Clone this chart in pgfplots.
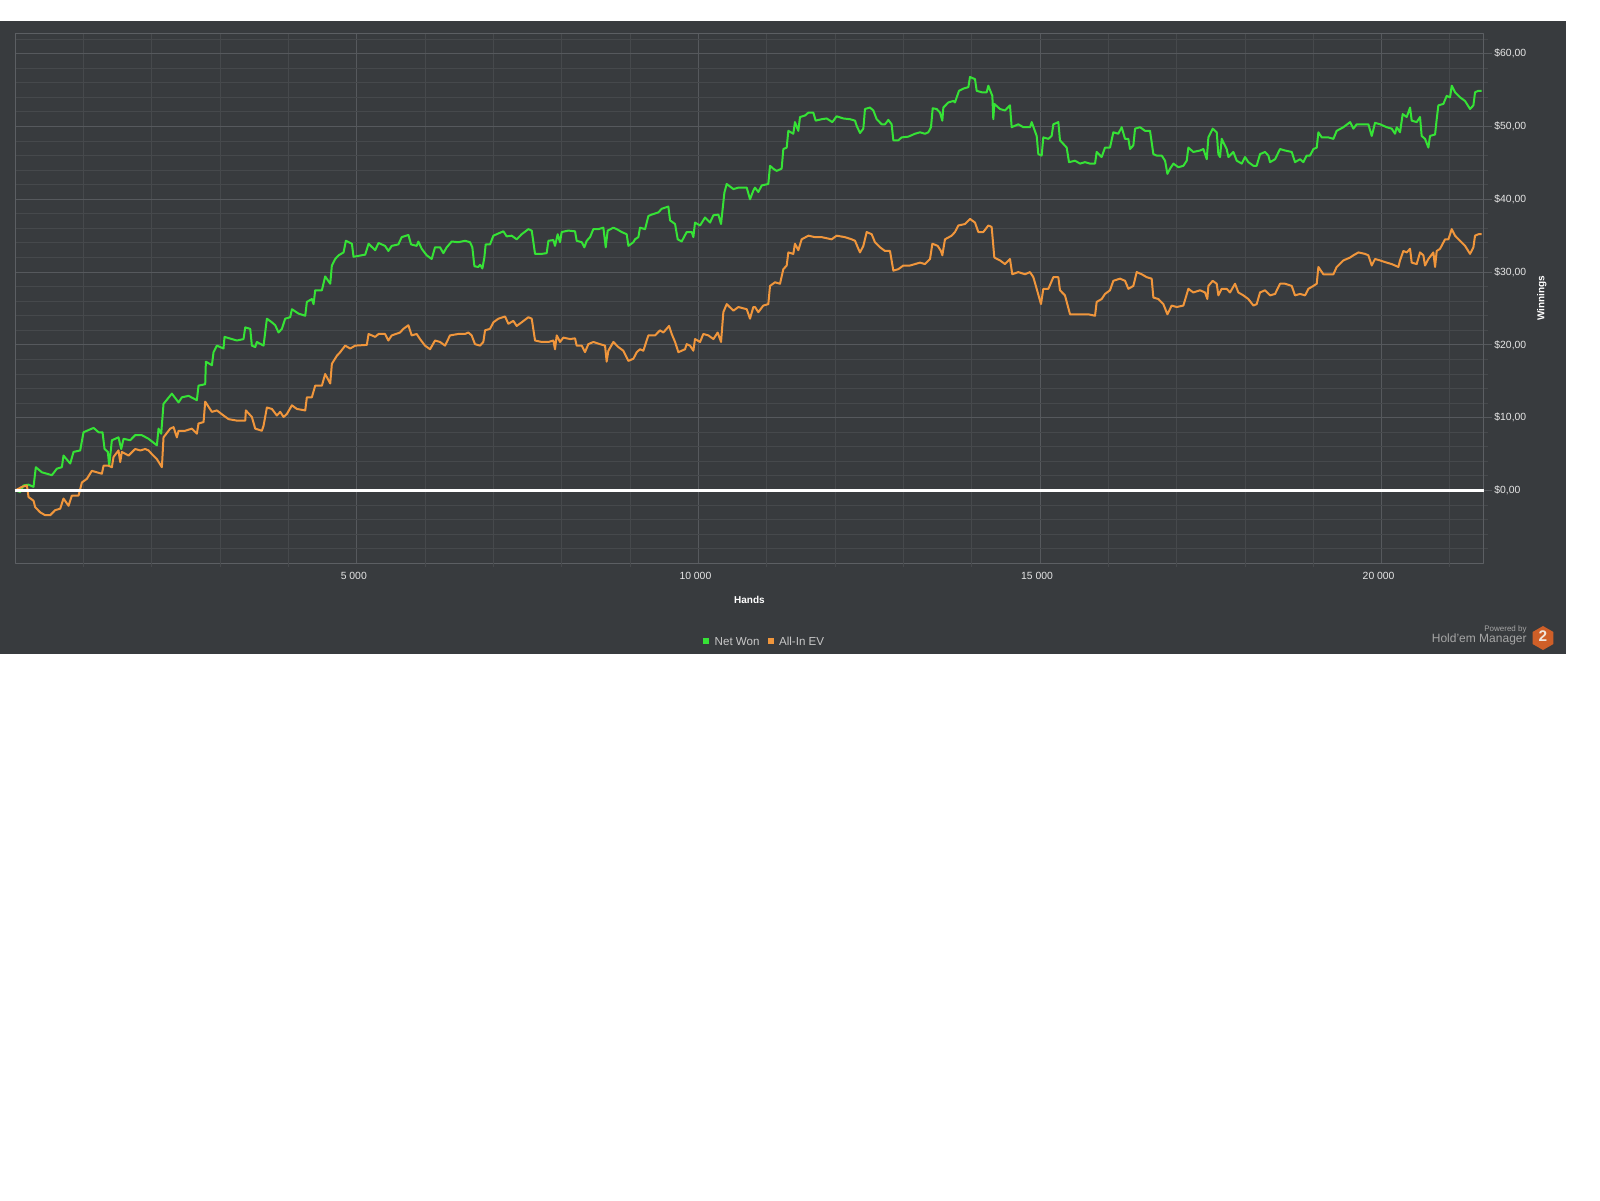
\documentclass[border=0pt]{standalone}
\usepackage{fontspec}
\setmainfont{Liberation Sans}
\usepackage{pgfplots}
\pgfplotsset{compat=1.18}
\definecolor{bg}{HTML}{383B3E}
\definecolor{gridmin}{HTML}{46494C}
\definecolor{gridmaj}{HTML}{56595D}
\definecolor{framec}{HTML}{5C5F63}
\definecolor{ticktext}{HTML}{E6E6E6}
\definecolor{legtext}{HTML}{C8C8C8}
\definecolor{netgreen}{HTML}{36E236}
\definecolor{evorange}{HTML}{F0963C}
\definecolor{hmorange}{HTML}{CF5F28}
\definecolor{hmgray}{HTML}{A6A6A6}
\begin{document}
\begin{tikzpicture}[x=0.5pt,y=0.5pt]
\useasboundingbox (0,0) rectangle (1600,1200);
\fill[white] (0,0) rectangle (1600,1200);
\fill[bg] (0,545.7) rectangle (1566,1179.3);
\begin{axis}[
  at={(7.6pt,318.35pt)}, anchor=south west, scale only axis,
  width=734.25pt, height=265pt,
  xmin=0, xmax=21494, ymin=-10, ymax=62.8,
  scaled x ticks=false, scaled y ticks=false,
  axis line style={color=framec, line width=0.5pt},
  xtick={5000,10000,15000,20000},
  xticklabels={5 000,10 000,15 000,20 000},
  minor xtick={1000,2000,3000,4000,6000,7000,8000,9000,11000,12000,13000,14000,16000,17000,18000,19000,21000},
  ytick={0,10,20,30,40,50,60},
  yticklabels={{\$0,00},{\$10,00},{\$20,00},{\$30,00},{\$40,00},{\$50,00},{\$60,00}},
  minor ytick={-8,-6,-4,-2,2,4,6,8,12,14,16,18,22,24,26,28,32,34,36,38,42,44,46,48,52,54,56,58,62},
  grid=both,
  major grid style={color=gridmaj, line width=0.5pt},
  minor grid style={color=gridmin, line width=0.5pt},
  major tick length=0pt, minor tick length=0pt,
  yticklabel pos=right,
  ticklabel style={font=\fontsize{5.2}{6}\selectfont, text=ticktext, inner sep=0pt},
  xticklabel style={anchor=center, yshift=-6.35pt, xshift=-1.5pt},
  yticklabel style={anchor=west, xshift=5.15pt},
  xlabel={Hands}, ylabel={Winnings},
  every axis x label/.style={at={(axis description cs:0.5,-0.0692)}, anchor=center, font=\bfseries\fontsize{5}{6}\selectfont, text=white},
  every axis y label/.style={at={(axis description cs:1.0395,0.5)}, rotate=90, anchor=center, font=\bfseries\fontsize{5}{6}\selectfont, text=white},
  clip=false,
  line join=round,
]
\addplot[netgreen, line width=1pt, mark=none] coordinates {
(0,0) (73,-0.2) (122,0.7) (195,0.8) (268,0.5) (302,3.2) (390,2.5) (464,2.3) (537,2.1) (610,3.0) (683,3.2) (707,4.8) (805,3.7) (854,5.3) (951,5.5) (1000,8.0) (1049,8.2) (1147,8.6) (1220,8.0) (1278,8.0) (1308,5.7) (1356,5.3) (1376,3.4) (1415,6.9) (1512,7.3) (1552,5.7) (1586,7.1) (1683,6.9) (1756,7.6) (1854,7.6) (1952,7.1) (2074,6.2) (2098,8.5) (2137,7.8) (2171,11.9) (2293,13.3) (2391,12.1) (2440,12.8) (2537,13.0) (2659,12.4) (2683,14.4) (2781,14.6) (2791,17.7) (2879,17.2) (2903,19.0) (2952,19.9) (3049,19.5) (3064,21.1) (3171,20.8) (3245,20.6) (3342,20.8) (3367,22.4) (3440,22.2) (3464,19.9) (3513,19.7) (3537,20.4) (3635,19.9) (3684,23.6) (3757,23.1) (3806,22.7) (3854,21.7) (3903,22.2) (3952,23.6) (4025,23.8) (4050,24.9) (4147,24.3) (4245,24.0) (4269,25.9) (4342,26.3) (4367,25.6) (4391,27.5) (4489,27.5) (4537,29.4) (4611,28.4) (4635,30.9) (4684,31.8) (4733,32.3) (4806,32.7) (4840,34.3) (4928,33.9) (4952,32.1) (5123,32.4) (5172,33.9) (5269,33.0) (5318,34.0) (5413,33.6) (5462,32.9) (5511,33.6) (5608,33.8) (5657,34.8) (5755,35.1) (5794,33.8) (5876,33.6) (5901,34.2) (5950,33.2) (6023,32.3) (6096,31.8) (6145,33.4) (6218,33.4) (6267,32.6) (6316,33.4) (6389,34.2) (6486,34.1) (6584,34.3) (6657,34.1) (6691,33.4) (6721,30.8) (6779,30.7) (6804,31.0) (6838,30.5) (6867,32.0) (6886,33.8) (6950,33.8) (6999,35.0) (7047,35.2) (7145,35.6) (7194,34.9) (7267,35.0) (7340,34.5) (7413,35.2) (7511,35.9) (7560,35.7) (7609,32.5) (7706,32.5) (7779,32.6) (7804,34.3) (7877,34.4) (7901,33.6) (7940,35.2) (7974,34.1) (7999,35.5) (8096,35.7) (8194,35.6) (8218,34.3) (8292,34.1) (8331,33.4) (8365,34.3) (8414,34.8) (8462,35.9) (8536,35.9) (8609,36.1) (8643,33.4) (8672,35.7) (8755,36.1) (8804,35.9) (8877,35.5) (8950,35.2) (8975,33.6) (9048,34.1) (9072,34.5) (9121,34.8) (9145,36.1) (9219,35.9) (9267,37.7) (9316,37.9) (9414,38.2) (9463,38.7) (9560,39.0) (9585,37.1) (9658,36.6) (9697,34.5) (9755,34.2) (9828,35.5) (9902,35.5) (9926,34.8) (9950,36.8) (10024,36.4) (10097,37.5) (10170,36.8) (10219,37.8) (10292,37.9) (10331,36.6) (10380,40.9) (10414,42.1) (10512,41.4) (10585,41.6) (10707,41.6) (10755,40.0) (10804,41.2) (10828,41.6) (10877,41.0) (10926,41.9) (11023,42.1) (11048,44.6) (11096,44.2) (11145,43.9) (11218,44.2) (11243,46.9) (11292,47.1) (11316,49.4) (11389,49.0) (11413,50.6) (11462,49.4) (11487,51.3) (11560,51.5) (11609,51.9) (11682,51.9) (11716,50.8) (11804,51.0) (11877,51.1) (11960,50.6) (12023,51.4) (12121,51.1) (12219,51.0) (12292,50.8) (12316,50.1) (12365,49.1) (12414,49.7) (12438,52.4) (12511,52.6) (12560,52.2) (12609,51.0) (12682,50.3) (12731,50.3) (12780,50.9) (12828,50.3) (12853,48.1) (12926,48.1) (12975,48.5) (13072,48.6) (13170,49.0) (13243,49.2) (13316,49.0) (13365,49.2) (13404,49.9) (13429,52.5) (13487,52.4) (13536,51.9) (13570,50.8) (13585,52.6) (13658,53.3) (13731,53.5) (13755,53.3) (13814,54.9) (13877,55.2) (13951,55.4) (13975,56.8) (14048,56.5) (14073,54.9) (14146,54.7) (14219,54.7) (14243,55.6) (14302,54.2) (14316,51.0) (14331,53.1) (14414,52.4) (14487,52.2) (14560,52.9) (14585,49.9) (14682,50.3) (14756,49.9) (14853,49.9) (14878,50.6) (14951,48.7) (14975,46.2) (15024,46.0) (15048,48.5) (15122,48.3) (15170,48.7) (15195,50.3) (15268,50.6) (15292,48.1) (15390,47.1) (15424,45.1) (15512,45.3) (15585,44.9) (15658,45.1) (15731,44.9) (15805,44.9) (15829,46.5) (15902,45.8) (15951,47.1) (16024,47.1) (16073,49.2) (16146,49.0) (16195,49.9) (16244,48.3) (16293,48.3) (16317,46.9) (16366,47.4) (16391,49.7) (16464,49.9) (16537,49.4) (16610,49.4) (16659,46.2) (16708,46.0) (16781,46.0) (16830,45.3) (16864,43.5) (16903,44.2) (16952,44.9) (17025,44.4) (17098,44.6) (17147,45.3) (17171,47.1) (17244,46.5) (17342,46.7) (17391,46.9) (17440,45.5) (17464,48.5) (17527,49.7) (17586,49.2) (17610,46.2) (17635,45.8) (17659,48.3) (17732,46.9) (17757,45.8) (17830,46.5) (17879,45.3) (17952,44.9) (18001,45.8) (18049,45.1) (18123,44.6) (18171,44.6) (18220,46.2) (18293,46.5) (18342,46.0) (18367,45.1) (18440,45.5) (18513,46.9) (18586,46.7) (18684,46.5) (18732,45.1) (18806,45.5) (18854,45.1) (18903,46.0) (18952,46.0) (19001,46.9) (19050,47.1) (19074,49.2) (19123,48.5) (19220,48.5) (19294,48.3) (19342,49.4) (19440,49.9) (19538,50.6) (19586,49.7) (19635,50.3) (19733,50.3) (19806,50.3) (19855,48.7) (19903,50.5) (19977,50.3) (20074,49.9) (20147,49.7) (20196,49.0) (20221,49.9) (20269,49.2) (20308,51.7) (20367,51.3) (20416,52.6) (20440,50.8) (20513,50.6) (20562,51.3) (20586,48.7) (20635,48.3) (20684,47.1) (20708,48.7) (20782,48.9) (20806,51.0) (20830,52.9) (20904,53.1) (20952,54.2) (21001,54.0) (21026,55.6) (21074,54.7) (21148,54.0) (21221,53.5) (21294,52.4) (21343,52.9) (21367,54.7) (21416,54.9) (21465,54.9)
};
\addplot[evorange, line width=1pt, mark=none] coordinates {
(0,0) (98,0.5) (171,0.7) (195,-0.9) (268,-1.4) (293,-2.3) (366,-3.0) (439,-3.4) (512,-3.4) (585,-2.7) (659,-2.5) (707,-1.1) (781,-2.1) (829,-0.7) (927,-0.7) (976,1.1) (1049,1.6) (1122,2.7) (1195,2.5) (1269,2.3) (1293,3.4) (1366,3.4) (1415,3.2) (1439,4.6) (1512,5.5) (1537,3.9) (1561,5.3) (1659,4.8) (1756,5.7) (1830,5.5) (1903,5.7) (1952,5.5) (2000,5.0) (2074,4.3) (2147,3.2) (2171,7.3) (2269,8.5) (2318,8.7) (2366,7.3) (2391,8.2) (2488,8.2) (2586,8.5) (2659,7.8) (2683,9.2) (2757,9.4) (2781,12.2) (2879,10.8) (2952,11.0) (3049,10.3) (3123,9.8) (3245,9.6) (3367,9.6) (3376,11.0) (3464,10.1) (3513,8.5) (3610,8.2) (3635,8.9) (3684,11.4) (3757,11.2) (3830,10.3) (3879,10.8) (3928,10.1) (3976,10.5) (4050,11.7) (4123,11.2) (4245,11.0) (4269,12.8) (4342,12.8) (4391,14.4) (4489,14.4) (4537,16.0) (4611,14.7) (4635,17.4) (4708,18.5) (4757,19.0) (4830,19.9) (4903,19.5) (4977,19.9) (5147,20.0) (5172,21.5) (5269,21.1) (5318,21.5) (5413,21.5) (5462,20.6) (5511,21.3) (5633,21.7) (5681,22.2) (5755,22.7) (5803,21.3) (5876,21.5) (5925,20.8) (5998,19.9) (6072,19.4) (6145,20.6) (6218,20.4) (6291,19.9) (6364,21.3) (6486,21.5) (6584,21.5) (6633,21.7) (6681,21.3) (6730,20.1) (6804,19.9) (6852,20.4) (6877,22.0) (6950,22.2) (6999,23.1) (7072,23.6) (7170,23.9) (7218,22.9) (7291,23.3) (7340,22.6) (7413,23.1) (7511,23.8) (7560,23.6) (7609,20.6) (7706,20.4) (7804,20.4) (7877,20.6) (7901,19.4) (7926,21.3) (7974,20.4) (8023,21.0) (8121,20.8) (8194,20.9) (8218,19.9) (8292,19.9) (8340,19.0) (8389,20.1) (8462,20.4) (8560,20.1) (8633,19.9) (8657,17.7) (8682,19.2) (8755,20.4) (8828,19.7) (8901,19.2) (8975,17.8) (9048,18.1) (9097,19.0) (9145,19.4) (9194,19.2) (9267,21.3) (9365,21.3) (9438,22.0) (9487,21.7) (9570,22.6) (9609,21.5) (9658,20.4) (9707,19.0) (9804,19.4) (9828,20.1) (9877,19.9) (9926,19.2) (9950,20.8) (10024,20.4) (10072,21.5) (10146,21.3) (10219,20.8) (10282,21.7) (10331,20.4) (10365,24.5) (10414,25.6) (10512,24.7) (10585,25.2) (10707,24.9) (10755,23.6) (10804,25.2) (10828,25.2) (10877,24.5) (10950,25.4) (11023,25.6) (11048,28.1) (11121,28.6) (11194,28.4) (11243,30.4) (11292,30.9) (11316,32.7) (11389,32.5) (11413,33.9) (11462,33.0) (11511,34.5) (11609,35.0) (11706,34.8) (11804,34.8) (11950,34.5) (12023,35.0) (12145,34.8) (12243,34.5) (12292,34.3) (12341,33.2) (12365,32.7) (12414,33.6) (12463,35.5) (12536,35.2) (12584,34.1) (12658,33.4) (12731,32.9) (12804,32.9) (12853,30.2) (12926,30.4) (12999,30.9) (13097,30.9) (13170,31.1) (13243,31.3) (13316,31.1) (13390,31.8) (13424,33.9) (13502,33.6) (13550,32.9) (13570,32.3) (13609,34.5) (13706,35.0) (13755,35.5) (13804,36.4) (13902,36.6) (13975,37.3) (14048,36.8) (14097,35.5) (14170,35.5) (14243,36.4) (14292,36.2) (14331,32.0) (14414,31.6) (14487,31.1) (14560,31.8) (14594,29.7) (14682,30.0) (14780,29.7) (14853,30.0) (14902,29.3) (14951,27.7) (15014,25.6) (15048,27.7) (15122,27.7) (15195,29.3) (15268,29.3) (15292,27.5) (15365,26.8) (15439,24.2) (15512,24.2) (15609,24.2) (15707,24.2) (15805,24.0) (15829,25.9) (15902,26.3) (15951,27.0) (16024,27.5) (16073,28.8) (16171,29.1) (16244,28.8) (16293,27.7) (16366,28.1) (16415,30.0) (16488,29.7) (16561,29.3) (16634,29.1) (16659,26.5) (16732,26.3) (16805,25.6) (16864,24.2) (16927,25.4) (17000,25.2) (17098,25.4) (17171,27.7) (17244,27.2) (17342,27.5) (17415,27.2) (17449,26.3) (17464,28.1) (17527,28.8) (17586,28.4) (17610,26.8) (17659,27.7) (17732,27.7) (17781,27.2) (17854,28.4) (17903,27.2) (17976,26.8) (18049,26.3) (18123,25.4) (18171,25.6) (18220,27.2) (18293,27.5) (18367,26.8) (18440,27.0) (18513,28.4) (18586,28.4) (18684,28.1) (18732,26.8) (18806,27.0) (18879,26.8) (18928,27.7) (19001,28.1) (19050,28.4) (19074,30.7) (19147,29.7) (19220,29.7) (19294,29.7) (19342,30.7) (19440,31.6) (19538,32.0) (19586,32.3) (19660,32.7) (19757,32.5) (19806,32.3) (19855,30.9) (19903,31.8) (19977,31.6) (20074,31.3) (20147,31.1) (20196,30.9) (20245,30.7) (20269,31.6) (20318,32.9) (20367,32.7) (20416,33.2) (20440,31.3) (20513,31.1) (20562,32.7) (20611,32.3) (20635,30.9) (20684,31.8) (20757,32.7) (20782,30.7) (20806,32.9) (20855,33.2) (20928,34.5) (20977,34.5) (21026,35.9) (21074,35.0) (21148,34.3) (21221,33.6) (21294,32.5) (21343,33.4) (21367,35.0) (21416,35.2) (21465,35.2)
};
\addplot[white, line width=1.3pt, mark=none, forget plot] coordinates {(0,0) (21494,0)};
\pgfplotsinvokeforeach{1000,2000,3000,4000,6000,7000,8000,9000,11000,12000,13000,14000,16000,17000,18000,19000,21000}{
  \draw[gridmin, line width=0.5pt] (axis cs:#1,-10) -- ++(0pt,-2pt);
}
\pgfplotsinvokeforeach{-8,-6,-4,-2,2,4,6,8,12,14,16,18,22,24,26,28,32,34,36,38,42,44,46,48,52,54,56,58,62}{
  \draw[gridmin, line width=0.5pt] (axis cs:21494,#1) -- ++(2.35pt,0pt);
}
\pgfplotsinvokeforeach{0,10,20,30,40,50,60}{
  \draw[gridmaj, line width=0.5pt] (axis cs:21494,#1) -- ++(4pt,0pt);
}
\end{axis}
% legend
\fill[netgreen] (703,555.5) rectangle (709,561.5);
\node[anchor=west, inner sep=0pt, text=legtext, font=\fontsize{5.8}{7}\selectfont] at (714.3,558.3) {Net Won};
\fill[evorange] (767.7,555.5) rectangle (773.7,561.5);
\node[anchor=west, inner sep=0pt, text=legtext, font=\fontsize{5.8}{7}\selectfont] at (778.7,558.3) {All-In EV};
% branding
\node[anchor=base east, inner sep=0pt, text=hmgray, font=\fontsize{4}{5}\selectfont] at (1527,568.5) {Powered by};
\node[anchor=base east, inner sep=0pt, text=hmgray, font=\fontsize{6}{7}\selectfont] at (1527,557.5) {Hold'em Manager};
\fill[hmorange] (1543,574) -- (1532.6,568) -- (1532.6,556) -- (1543,550) -- (1553.4,556) -- (1553.4,568) -- cycle;
\node[inner sep=0pt, text={rgb,255:red,240;green,230;blue,220}, font=\bfseries\fontsize{7.7}{8}\selectfont] at (1543,563.8) {2};
\end{tikzpicture}
\end{document}
